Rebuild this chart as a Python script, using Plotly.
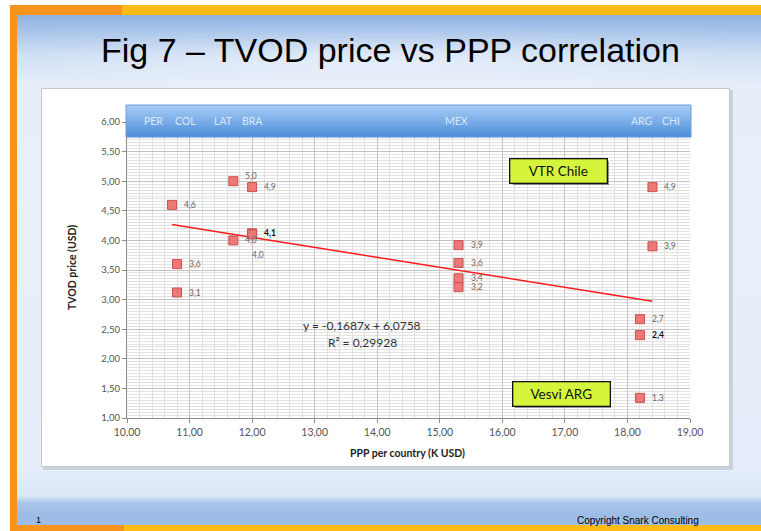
import base64, struct, zlib
import numpy as np
import plotly.graph_objects as go

# ---------------- data ----------------
ppp = [10.72, 10.80, 10.80, 11.70, 11.70, 12.00, 12.00, 12.00, 15.30, 15.30, 15.30, 15.30, 18.20, 18.20, 18.20, 18.40, 18.40]
price = [4.60, 3.60, 3.12, 5.00, 4.00, 4.90, 4.12, 4.10, 3.92, 3.62, 3.36, 3.21, 2.67, 2.40, 1.34, 4.90, 3.90]
labels = ["4,6", "3,6", "3,1", "5,0", "4,0", "4,9", "4,1", "4,0", "3,9", "3,6", "3,4", "3,2", "2,7", "2,4", "1,3", "4,9", "3,9"]
bold_labels = [False, False, False, False, False, False, True, False, False, False, False, False, False, True, False, False, False]
label_place = ["r", "r", "r", "ur", "r", "r", "r", "below", "r", "r", "r", "r", "r", "r", "r", "r", "r"]

band_countries = ["PER", "COL", "LAT", "BRA", "MEX", "ARG", "CHI"]
band_x = [10.42, 10.94, 11.55, 12.00, 15.26, 18.23, 18.69]

trend_slope = -0.1687
trend_intercept = 6.0758
r2 = 0.29928

callouts = ["VTR Chile", "Vesvi ARG"]
callout_x = [16.90, 16.94]
callout_y = [5.18, 1.41]

x_ticks = [10, 11, 12, 13, 14, 15, 16, 17, 18, 19]
y_ticks = [1.0, 1.5, 2.0, 2.5, 3.0, 3.5, 4.0, 4.5, 5.0, 5.5, 6.0]

# ---------------- geometry helpers (layout, pixels) ----------------
W, H = 761, 531
L, R, T, B = 127, 690, 122, 418
PW, PH = R - L, B - T


def xp(px):
    return (px - L) / PW


def yp(py):
    return (B - py) / PH


# ---------------- background image ----------------
def hexrgb(h):
    h = h.lstrip("#")
    return [int(h[i:i + 2], 16) for i in (0, 2, 4)]


img = np.zeros((H, W, 3), dtype=float)
stops_y = [0, 15, 30, 55, 85, 200, 470, 495, 503, 515, 531]
stops_c = ["#8fb2e2", "#8fb2e2", "#a6c3ea", "#cfdff4", "#e6eefa", "#e9f0fa", "#e4edf9", "#dbe7f6", "#a8c4ea", "#9dbce6", "#9dbce6"]
rows = np.arange(H)
for ch in range(3):
    col = np.interp(rows, stops_y, [hexrgb(c)[ch] for c in stops_c])
    img[:, :, ch] = col[:, None]
xx = np.arange(W)
hl = np.exp(-((xx - 380) / 260.0) ** 2)
yy = np.exp(-((rows - 60) / 25.0) ** 2)
img += (255 - img) * 0.35 * (yy[:, None] * hl[None, :])[:, :, None]

img[0:5, :, :] = 255
img[:, 0:10, :] = 255
orange = hexrgb("#f7941e")
yellow = hexrgb("#fdbb14")
img[5:15, 10:122, :] = orange
img[5:15, 122:, :] = yellow
img[5:531, 10:17, :] = orange
img[525:531, 10:124, :] = orange
img[525:531, 124:, :] = yellow

img[90:470, 43:733, :] = np.array(hexrgb("#c9d3df"))
img[88:467, 41:730, :] = 255
bc = hexrgb("#c6c6c6")
img[88, 41:730, :] = bc
img[466, 41:730, :] = bc
img[88:467, 41, :] = bc
img[88:467, 729, :] = bc

img = np.clip(img, 0, 255).astype(np.uint8)


def to_png(a):
    h, w, _ = a.shape
    raw = b"".join(b"\x00" + a[i].tobytes() for i in range(h))

    def chunk(t, d):
        c = struct.pack(">I", len(d)) + t + d
        return c + struct.pack(">I", zlib.crc32(t + d) & 0xffffffff)

    return (b"\x89PNG\r\n\x1a\n" + chunk(b"IHDR", struct.pack(">IIBBBBB", w, h, 8, 2, 0, 0, 0))
            + chunk(b"IDAT", zlib.compress(raw, 9)) + chunk(b"IEND", b""))


bg_uri = "data:image/png;base64," + base64.b64encode(to_png(img)).decode()

# ---------------- figure ----------------
fig = go.Figure()

tx = [min(ppp), max(ppp)]
ty = [trend_slope * v + trend_intercept for v in tx]
fig.add_trace(go.Scatter(x=tx, y=ty, mode="lines", line=dict(color="#ff1a1a", width=1.5),
                         hoverinfo="skip", showlegend=False))

fig.add_trace(go.Scatter(
    x=ppp, y=price, mode="markers",
    marker=dict(symbol="square", size=9, color="#ee7777", line=dict(color="#c8504c", width=1)),
    showlegend=False))

annotations = []
for x, y, t, b, pl in zip(ppp, price, labels, bold_labels, label_place):
    xs, ys = 10, 0
    if pl == "ur":
        xs, ys = 10, 5
    elif pl == "below":
        xs, ys = -2, -21
    annotations.append(dict(
        x=x, y=y, xref="x", yref="y", text=f"<b>{t}</b>" if b else t, showarrow=False,
        xanchor="left", yanchor="middle", xshift=xs, yshift=ys,
        font=dict(family="Lato, Liberation Sans", size=8.5, color="#111111" if b else "#666666")))

annotations.append(dict(x=13.75, y=2.57, xref="x", yref="y", showarrow=False,
                        xanchor="center", yanchor="middle",
                        text=f"y = {str(trend_slope).replace('.', ',')}x + {str(trend_intercept).replace('.', ',')}",
                        font=dict(family="Lato, Liberation Sans", size=12, color="#333333")))
annotations.append(dict(x=13.77, y=2.28, xref="x", yref="y", showarrow=False,
                        xanchor="center", yanchor="middle",
                        text=f"R² = {str(r2).replace('.', ',')}",
                        font=dict(family="Lato, Liberation Sans", size=12, color="#333333")))

for t, cx, cy in zip(callouts, callout_x, callout_y):
    annotations.append(dict(x=cx, y=cy, xref="x", yref="y", text=" ", showarrow=False, xshift=2, yshift=-2,
                            xanchor="center", yanchor="middle",
                            width=94, height=22, bgcolor="rgba(60,60,60,0.55)", borderwidth=0))
    annotations.append(dict(x=cx, y=cy, xref="x", yref="y", text=t, showarrow=False,
                            xanchor="center", yanchor="middle",
                            width=94, height=21, bgcolor="#d4f53c", bordercolor="#111111", borderwidth=1.3,
                            font=dict(family="Lato, Liberation Sans", size=13.5, color="#111111")))

for c, bx in zip(band_countries, band_x):
    annotations.append(dict(x=bx, y=yp(121), xref="x", yref="paper", text=c, showarrow=False,
                            xanchor="center", yanchor="middle",
                            font=dict(family="Lato, Liberation Sans", size=10.5, color="#dbe8fb")))

annotations += [
    dict(x=xp(390), y=yp(50), xref="paper", yref="paper", showarrow=False,
         xanchor="center", yanchor="middle",
         text="Fig 7 – TVOD price vs PPP correlation",
         font=dict(family="Liberation Sans", size=34, color="#000000")),
    dict(x=xp(407), y=yp(453), xref="paper", yref="paper", showarrow=False,
         xanchor="center", yanchor="middle",
         text="<b>PPP per country (K USD)</b>",
         font=dict(family="Lato, Liberation Sans", size=10.5, color="#222222")),
    dict(x=xp(72), y=yp(268), xref="paper", yref="paper", showarrow=False, textangle=-90,
         xanchor="center", yanchor="middle",
         text="<b>TVOD price (USD)</b>",
         font=dict(family="Lato, Liberation Sans", size=10.5, color="#222222")),
    dict(x=xp(34), y=yp(520), xref="paper", yref="paper", showarrow=False, xanchor="left", yanchor="middle",
         text="1", font=dict(family="Liberation Sans", size=9, color="#000000")),
    dict(x=xp(701), y=yp(520), xref="paper", yref="paper", showarrow=False, xanchor="right", yanchor="middle",
         text="Copyright Snark Consulting", font=dict(family="Liberation Sans", size=10, color="#000000")),
]

shapes = []
band_top, band_bot = 105, 137
n = 16
c_top, c_bot = np.array(hexrgb("#a8ccf5")), np.array(hexrgb("#4f8fdb"))
for i in range(n):
    f = i / (n - 1)
    c = (c_top * (1 - f) + c_bot * f).astype(int)
    y0 = band_top + (band_bot - band_top) * i / n
    y1 = band_top + (band_bot - band_top) * (i + 1) / n
    shapes.append(dict(type="rect", xref="paper", yref="paper", x0=xp(126), x1=xp(691),
                       y0=yp(y1) - 0.001, y1=yp(y0), fillcolor=f"rgb({c[0]},{c[1]},{c[2]})",
                       line=dict(width=0), layer="above"))
shapes.append(dict(type="rect", xref="paper", yref="paper", x0=xp(126), x1=xp(691),
                   y0=yp(band_bot), y1=yp(band_top), line=dict(color="#6d9fd8", width=1),
                   fillcolor="rgba(0,0,0,0)", layer="above"))

fig.update_layout(
    width=W, height=H,
    margin=dict(l=L, r=W - R, t=T, b=H - B),
    paper_bgcolor="rgba(0,0,0,0)", plot_bgcolor="rgba(0,0,0,0)",
    separators=",.",
    images=[dict(source=bg_uri, xref="paper", yref="paper", x=xp(0), y=yp(0),
                 sizex=W / PW, sizey=H / PH, xanchor="left", yanchor="top",
                 sizing="stretch", layer="below")],
    annotations=annotations, shapes=shapes,
    xaxis=dict(range=[10, 19], tickvals=x_ticks, tickformat=".2f",
               showgrid=True, gridcolor="#c4c4c4", gridwidth=1.3,
               minor=dict(dtick=0.2, showgrid=True, gridcolor="#dedede", gridwidth=1),
               showline=True, linecolor="#8c8c8c", linewidth=1.3, ticks="outside", ticklen=4,
               tickcolor="#8c8c8c", zeroline=False,
               tickfont=dict(family="Lato, Liberation Sans", size=10.5, color="#555555")),
    yaxis=dict(range=[1, 6], tickvals=y_ticks, tickformat=".2f",
               showgrid=True, gridcolor="#c4c4c4", gridwidth=1.3,
               minor=dict(dtick=0.05, showgrid=True, gridcolor="#e2e2e2", gridwidth=1),
               showline=True, linecolor="#8c8c8c", linewidth=1.3, ticks="outside", ticklen=4,
               tickcolor="#8c8c8c", zeroline=False,
               tickfont=dict(family="Lato, Liberation Sans", size=9.5, color="#555555")),
)

fig.write_html("out.html", config={"displayModeBar": False},
               post_script="document.body.style.margin='0px';document.body.style.overflow='hidden';")
